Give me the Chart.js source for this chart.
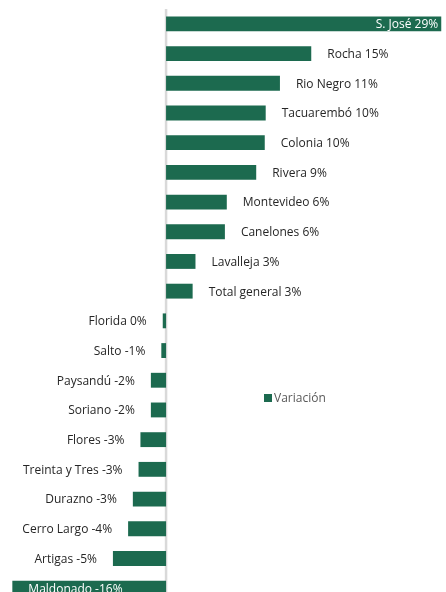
<!DOCTYPE html>
<html>
<head>
<meta charset="utf-8">
<script src="https://cdn.jsdelivr.net/npm/chart.js@4.4.1/dist/chart.umd.min.js"></script>
<style>
  html, body { margin: 0; padding: 0; overflow: hidden; background: #fff; }
  #wrap { position: relative; width: 446px; height: 604px; }
</style>
</head>
<body>
<div id="wrap"><canvas id="chart"></canvas></div>
<script>
// departamentos, de mayor a menor variación
const departamentos = [
    'S. José', 'Rocha', 'Rio Negro', 'Tacuarembó', 'Colonia', 'Rivera',
    'Montevideo', 'Canelones', 'Lavalleja', 'Total general', 'Florida', 'Salto',
    'Paysandú', 'Soriano', 'Flores', 'Treinta y Tres', 'Durazno', 'Cerro Largo',
    'Artigas', 'Maldonado'
];
// largo de las barras (%)
const variacion = [
    29.0, 15.3, 12.0, 10.5, 10.4, 9.5,
    6.4, 6.2, 3.1, 2.8, -0.35, -0.5,
    -1.6, -1.6, -2.7, -2.9, -3.5, -4.0,
    -5.6, -16.2
];
// etiquetas que muestra el gráfico
const etiquetas = [
    '29%', '15%', '11%', '10%', '10%', '9%',
    '6%', '6%', '3%', '3%', '0%', '-1%',
    '-2%', '-2%', '-3%', '-3%', '-3%', '-4%',
    '-5%', '-16%'
];

const verde = '#1c6a4f';
const fuente = '12px "Open Sans", sans-serif';

// linea gris en el cero
const lineaCero = {
    id: 'lineaCero',
    beforeDatasetsDraw(chart) {
        const ctx = chart.ctx;
        const x = chart.scales.x.getPixelForValue(0);
        ctx.save();
        ctx.strokeStyle = '#d9d9d9';
        ctx.lineWidth = 2.5;
        ctx.beginPath();
        ctx.moveTo(x, chart.chartArea.top);
        ctx.lineTo(x, chart.chartArea.bottom);
        ctx.stroke();
        ctx.restore();
    }
};

// etiquetas al lado de cada barra
const etiquetasBarras = {
    id: 'etiquetasBarras',
    afterDatasetsDraw(chart) {
        const ctx = chart.ctx;
        const area = chart.chartArea;
        const meta = chart.getDatasetMeta(0);
        ctx.save();
        ctx.font = fuente;
        ctx.textBaseline = 'middle';
        meta.data.forEach((bar, i) => {
            const txt = departamentos[i] + ' ' + etiquetas[i];
            const w = ctx.measureText(txt).width;
            const y = bar.y + 1;
            if (variacion[i] >= 0) {
                if (bar.x + 16 + w > area.right) {
                    ctx.fillStyle = '#ffffff';
                    ctx.textAlign = 'right';
                    ctx.fillText(txt, bar.x - 3, y);
                } else {
                    ctx.fillStyle = '#262626';
                    ctx.textAlign = 'left';
                    ctx.fillText(txt, bar.x + 16, y);
                }
            } else {
                if (bar.x - 16 - w < area.left) {
                    ctx.fillStyle = '#ffffff';
                    ctx.textAlign = 'left';
                    ctx.fillText(txt, bar.x + 16, y);
                } else {
                    ctx.fillStyle = '#262626';
                    ctx.textAlign = 'right';
                    ctx.fillText(txt, bar.x - 16, y);
                }
            }
        });
        ctx.restore();
    }
};

// leyenda en medio del gráfico
const leyenda = {
    id: 'leyenda',
    afterDraw(chart) {
        const ctx = chart.ctx;
        const ds = chart.data.datasets[0];
        ctx.save();
        ctx.fillStyle = ds.backgroundColor;
        ctx.fillRect(264, 394, 8, 8);
        ctx.font = fuente;
        ctx.fillStyle = '#595959';
        ctx.textAlign = 'left';
        ctx.textBaseline = 'middle';
        ctx.fillText(ds.label, 274, 399);
        ctx.restore();
    }
};

new Chart(document.getElementById('chart'), {
    type: 'bar',
    data: {
        labels: departamentos,
        datasets: [{
            label: 'Variación',
            data: variacion,
            backgroundColor: verde,
            borderWidth: 0,
            categoryPercentage: 1,
            barPercentage: 0.5
        }]
    },
    options: {
        indexAxis: 'y',
        responsive: true,
        maintainAspectRatio: false,
        animation: false,
        layout: { padding: { top: 9, bottom: 1, left: 0, right: 0 } },
        scales: {
            x: { display: false, min: -17.5, max: 29.5 },
            y: { display: false }
        },
        plugins: {
            legend: { display: false },
            tooltip: { enabled: false }
        }
    },
    plugins: [lineaCero, etiquetasBarras, leyenda]
});
</script>
</body>
</html>
